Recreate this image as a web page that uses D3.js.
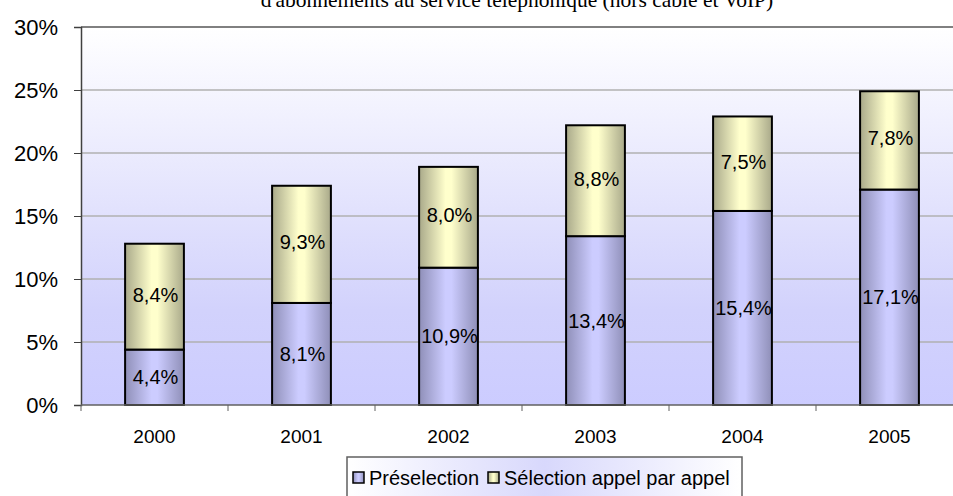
<!DOCTYPE html>
<html>
<head>
<meta charset="utf-8">
<script src="https://cdn.jsdelivr.net/npm/d3@7"></script>
<style>
  body { margin: 0; background: #fff; }
  svg { display: block; }
  text { font-family: "Liberation Sans", Arial, sans-serif; }
</style>
</head>
<body>
<svg id="chart" width="953" height="496"></svg>
<script>
var years = ["2000", "2001", "2002", "2003", "2004", "2005"]
var preselection = [4.4, 8.1, 10.9, 13.4, 15.4, 17.1]
var selection = [8.4, 9.3, 8.0, 8.8, 7.5, 7.8]
var seriesNames = ["Préselection", "Sélection appel par appel"]
var yTicks = [0, 5, 10, 15, 20, 25, 30]
var title = "d'abonnements au service téléphonique (hors câble et VoIP)"

var svg = d3.select("#chart")
var plotL = 81, plotR = 963, plotT = 27, plotB = 405

var x = d3.scaleBand().domain(years).range([plotL, plotR]).paddingInner(0.6).paddingOuter(0.3)
var band = d3.scaleBand().domain(years).range([plotL, plotR])
var y = d3.scaleLinear().domain([0, 30]).range([plotB, plotT])

var defs = svg.append("defs")

function grad(id, stops, vertical) {
    var g = defs.append("linearGradient").attr("id", id)
    if (vertical) g.attr("x1", 0).attr("y1", 0).attr("x2", 0).attr("y2", 1)
    else g.attr("x1", 0).attr("y1", 0).attr("x2", 1).attr("y2", 0)
    stops.forEach(s => g.append("stop").attr("offset", s[0]).attr("stop-color", s[1]))
}
grad("bg", [[0, "#ffffff"], [0.75, "#d2d2fc"], [1, "#ccccff"]], true)
grad("blue", [[0, "#8f8fb8"], [0.45, "#ccccff"], [0.55, "#ccccff"], [1, "#8f8fb8"]])
grad("yel", [[0, "#a9a98a"], [0.45, "#ffffcc"], [0.55, "#ffffcc"], [1, "#a9a98a"]])
grad("leg", [[0, "#ffffff"], [0.5, "#d8d8fc"], [1, "#ffffff"]])

// title, cut at the top edge
svg.append("text")
    .attr("x", 517).attr("y", 7)
    .attr("text-anchor", "middle")
    .style("font-family", "Liberation Serif, Times New Roman, serif")
    .style("font-size", "21.5px")
    .text(title)

// plot background
svg.append("rect")
    .attr("x", plotL).attr("y", plotT)
    .attr("width", plotR - plotL).attr("height", plotB - plotT)
    .attr("fill", "url(#bg)")

// gridlines
svg.append("g").selectAll("line").data(yTicks.filter(d => d > 0 && d < 30)).enter()
    .append("line")
    .attr("x1", plotL).attr("x2", plotR)
    .attr("y1", d => y(d)).attr("y2", d => y(d))
    .attr("stroke", "#b0b0b0").attr("stroke-width", 1.5)

svg.append("line")
    .attr("x1", plotL).attr("x2", plotR)
    .attr("y1", y(30)).attr("y2", y(30))
    .attr("stroke", "#808080").attr("stroke-width", 2)

// y axis
var yAxis = svg.append("g")
    .attr("transform", `translate(${plotL},0)`)
    .call(d3.axisLeft(y).tickValues(yTicks).tickSize(7).tickPadding(16).tickFormat(d => d + "%"))
yAxis.select(".domain").attr("stroke", "#404040").attr("stroke-width", 1.5)
yAxis.selectAll(".tick line").attr("stroke", "#404040")
yAxis.selectAll("text")
    .style("font-family", "Liberation Sans, Arial, sans-serif")
    .style("font-size", "22px").attr("fill", "#000")

// bars
var rows = years.map((yr, i) => ({ year: yr, a: preselection[i], b: selection[i] }))

var bars = svg.append("g").selectAll("g").data(rows).enter().append("g")

bars.append("rect")
    .attr("x", d => x(d.year)).attr("width", x.bandwidth())
    .attr("y", d => y(d.a)).attr("height", d => y(0) - y(d.a))
    .attr("fill", "url(#blue)").attr("stroke", "#000").attr("stroke-width", 2)

bars.append("rect")
    .attr("x", d => x(d.year)).attr("width", x.bandwidth())
    .attr("y", d => y(d.a + d.b)).attr("height", d => y(d.a) - y(d.a + d.b))
    .attr("fill", "url(#yel)").attr("stroke", "#000").attr("stroke-width", 2)

function fmt(v) { return v.toFixed(1).replace(".", ",") + "%" }

bars.append("text")
    .attr("x", d => x(d.year) + x.bandwidth() / 2 + 1)
    .attr("y", d => y(d.a / 2) + 7)
    .attr("text-anchor", "middle")
    .style("font-size", "20px")
    .text(d => fmt(d.a))

bars.append("text")
    .attr("x", d => x(d.year) + x.bandwidth() / 2 + 1)
    .attr("y", d => y(d.a + d.b / 2) + 5)
    .attr("text-anchor", "middle")
    .style("font-size", "20px")
    .text(d => fmt(d.b))

// x axis
svg.append("line")
    .attr("x1", plotL).attr("x2", plotR)
    .attr("y1", plotB).attr("y2", plotB)
    .attr("stroke", "#606060").attr("stroke-width", 1.5)

svg.append("g").selectAll("line").data(years).enter()
    .append("line")
    .attr("x1", d => band(d)).attr("x2", d => band(d))
    .attr("y1", plotB).attr("y2", plotB + 6)
    .attr("stroke", "#606060")

svg.append("g").selectAll("text").data(years).enter()
    .append("text")
    .attr("x", d => band(d) + band.bandwidth() / 2)
    .attr("y", 443)
    .attr("text-anchor", "middle")
    .style("font-size", "19px")
    .text(d => d)

// legend
var lg = svg.append("g")
lg.append("rect")
    .attr("x", 347).attr("y", 457).attr("width", 395).attr("height", 44)
    .attr("fill", "url(#leg)").attr("stroke", "#606060").attr("stroke-width", 1.5)

var legendX = [353, 488]
var legendFill = ["url(#blue)", "url(#yel)"]
seriesNames.forEach((name, i) => {
    lg.append("rect")
        .attr("x", legendX[i]).attr("y", 472).attr("width", 11).attr("height", 11)
        .attr("fill", legendFill[i]).attr("stroke", "#000").attr("stroke-width", 1.5)
    lg.append("text")
        .attr("x", legendX[i] + 16).attr("y", 485)
        .style("font-size", "20px")
        .text(name)
})
</script>
</body>
</html>
